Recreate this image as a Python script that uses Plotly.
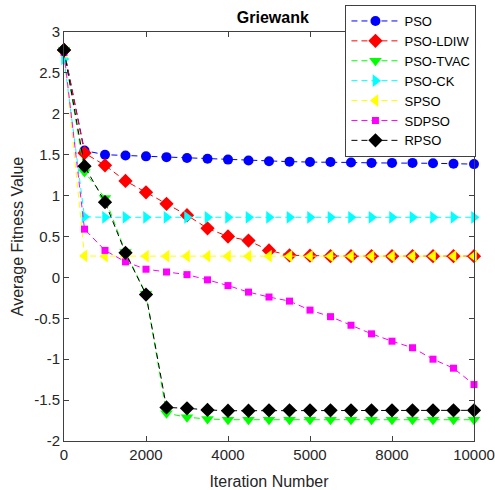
import plotly.graph_objects as go

iterations = list(range(0, 10001, 500))

pso = [2.78, 1.55, 1.50, 1.49, 1.48, 1.47, 1.46, 1.45, 1.44, 1.43, 1.42, 1.415,
       1.41, 1.41, 1.405, 1.40, 1.40, 1.40, 1.395, 1.39, 1.385]
pso_ldiw = [2.78, 1.52, 1.37, 1.18, 1.04, 0.90, 0.76, 0.60, 0.50, 0.45, 0.33, 0.27,
            0.265, 0.26, 0.26, 0.26, 0.26, 0.26, 0.26, 0.26, 0.26]
pso_tvac = [2.78, 1.29, 0.97, 0.31, -0.20, -1.66, -1.71, -1.73, -1.74, -1.74, -1.74, -1.74,
            -1.74, -1.74, -1.74, -1.74, -1.74, -1.74, -1.74, -1.74, -1.74]
pso_ck = [2.67, 0.74, 0.735, 0.735, 0.735, 0.735, 0.735, 0.735, 0.735, 0.735, 0.735, 0.735,
          0.735, 0.735, 0.735, 0.735, 0.735, 0.735, 0.735, 0.735, 0.735]
spso = [2.75, 0.262, 0.26, 0.26, 0.26, 0.26, 0.26, 0.26, 0.26, 0.26, 0.26, 0.26,
        0.26, 0.26, 0.26, 0.26, 0.26, 0.26, 0.26, 0.26, 0.26]
sdpso = [2.75, 0.59, 0.33, 0.19, 0.10, 0.066, 0.034, -0.03, -0.10, -0.18, -0.24, -0.29,
         -0.40, -0.48, -0.585, -0.69, -0.78, -0.86, -1.0, -1.11, -1.31]
rpso = [2.78, 1.36, 0.92, 0.30, -0.21, -1.59, -1.60, -1.62, -1.63, -1.63, -1.625, -1.625,
        -1.625, -1.625, -1.625, -1.625, -1.625, -1.625, -1.625, -1.625, -1.625]

series = [
    ("PSO", pso, "#0000FF", "circle", 10),
    ("PSO-LDIW", pso_ldiw, "#FF0000", "diamond", 11),
    ("PSO-TVAC", pso_tvac, "#00FF00", "triangle-down", 11),
    ("PSO-CK", pso_ck, "#00FFFF", "triangle-right", 11),
    ("SPSO", spso, "#FFFF00", "triangle-left", 11),
    ("SDPSO", sdpso, "#FF00FF", "square", 7),
    ("RPSO", rpso, "#000000", "diamond", 11),
]

x_tickvals = [0, 2000, 4000, 6000, 8000, 10000]
x_ticktext = ["0", "2000", "4000", "5000", "8000", "10000"]
y_tickvals = [3, 2.5, 2, 1.5, 1, 0.5, 0, -0.5, -1, -1.5, -2]
y_ticktext = ["3", "2.5", "2", "1.5", "1", "0.5", "0", "-0.5", "-1", "-1.5", "-2"]

fig = go.Figure()
for name, vals, color, sym, size in series:
    fig.add_trace(go.Scatter(
        x=iterations, y=vals, name=name, mode="lines+markers",
        line=dict(color=color, width=1, dash="6px,4px"),
        marker=dict(symbol=sym, size=size, color=color, line=dict(width=0)),
        cliponaxis=False,
    ))

axis_color = "#404040"
fig.update_layout(
    width=495, height=490,
    margin=dict(l=63.5, r=20.5, t=31.7, b=49.3, autoexpand=False),
    paper_bgcolor="white", plot_bgcolor="white",
    font=dict(family="Liberation Sans, Arial, sans-serif", size=15, color="#262626"),
    title=dict(text="<b>Griewank</b>", x=0.5093, xref="paper", y=0.965, yanchor="middle",
               font=dict(size=16, color="#000000")),
    showlegend=True,
    legend=dict(
        x=1.006, y=1.066, xanchor="right", yanchor="top",
        bgcolor="white", bordercolor=axis_color, borderwidth=1,
        font=dict(size=13, color="#000000"), itemwidth=48,
        tracegroupgap=0,
    ),
    xaxis=dict(
        range=[0, 10000], tickvals=x_tickvals, ticktext=x_ticktext,
        showgrid=False, zeroline=False, showline=True, linecolor=axis_color, linewidth=1,
        mirror="ticks", ticks="inside", ticklen=5, tickcolor=axis_color,
        title=dict(text="Iteration Number", font=dict(size=16, color="#262626"), standoff=14),
    ),
    yaxis=dict(
        range=[-2, 3], tickvals=y_tickvals, ticktext=y_ticktext,
        showgrid=False, zeroline=False, showline=True, linecolor=axis_color, linewidth=1,
        mirror="ticks", ticks="inside", ticklen=5, tickcolor=axis_color,
        title=dict(text="Average Fitness Value", font=dict(size=16, color="#262626"), standoff=6),
    ),
)

fig.write_html("out.html")
